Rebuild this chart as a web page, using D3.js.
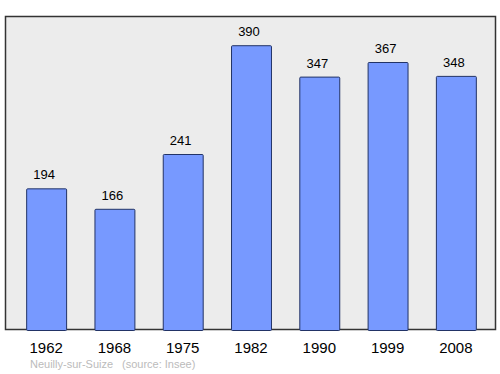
<!DOCTYPE html>
<html>
<head>
<meta charset="utf-8">
<script src="https://cdn.jsdelivr.net/npm/d3@7"></script>
<style>
  body { margin: 0; background: #fff; }
  text { font-family: "Liberation Sans", Arial, sans-serif; }
</style>
</head>
<body>
<div id="chart"></div>
<script>
const years = ['1962', '1968', '1975', '1982', '1990', '1999', '2008']
const population = [194, 166, 241, 390, 347, 367, 348]
const place = 'Neuilly-sur-Suize'
const source = '(source: Insee)'

const width = 500
const height = 374

const svg = d3.select('#chart').append('svg')
    .attr('width', width)
    .attr('height', height)

// plot frame
svg.append('rect')
    .attr('x', 5.5)
    .attr('y', 16.5)
    .attr('width', 490)
    .attr('height', 313)
    .attr('fill', '#ececec')
    .attr('stroke', '#333')
    .attr('stroke-width', 1.5)

const x = d3.scaleBand()
    .domain(years)
    .range([12, 490])
    .paddingInner(0.415)
    .paddingOuter(0.2075)

const y = d3.scaleLinear()
    .domain([0, 430])
    .range([330, 16])

const data = years.map((yr, i) => ({ year: yr, value: population[i] }))

svg.append('g')
    .selectAll('rect')
    .data(data)
    .enter()
    .append('rect')
    .attr('x', d => x(d.year) + 0.5)
    .attr('y', d => y(d.value) + 0.5)
    .attr('width', x.bandwidth())
    .attr('height', d => y(0) - y(d.value))
    .attr('fill', '#7799ff')
    .attr('stroke', '#223366')
    .attr('stroke-width', 1)
    .attr('rx', 1)

svg.append('g')
    .selectAll('text')
    .data(data)
    .enter()
    .append('text')
    .attr('x', d => x(d.year) + x.bandwidth() / 2 - 2)
    .attr('y', d => y(d.value) - 9)
    .attr('text-anchor', 'middle')
    .attr('font-size', 13)
    .attr('fill', '#000')
    .text(d => d.value)

// x axis labels
const axis = svg.append('g')
    .attr('transform', 'translate(0,330)')
    .call(d3.axisBottom(x).tickSize(0).tickPadding(12))
axis.select('.domain').remove()
axis.selectAll('text')
    .attr('font-size', 15)
    .attr('font-family', '"Liberation Sans", Arial, sans-serif')
    .attr('fill', '#000')

svg.append('text')
    .attr('x', 30)
    .attr('y', 368)
    .attr('font-size', 11)
    .attr('fill', '#bbb')
    .text(place)

svg.append('text')
    .attr('x', 122)
    .attr('y', 368)
    .attr('font-size', 11)
    .attr('fill', '#bbb')
    .text(source)
</script>
</body>
</html>
